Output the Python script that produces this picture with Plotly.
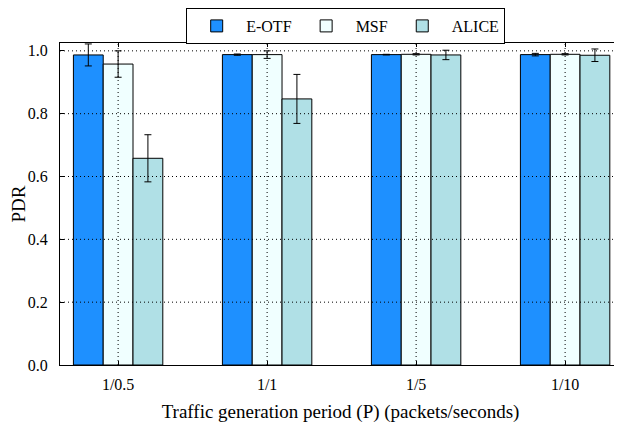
import plotly.graph_objects as go

categories = ["1/0.5", "1/1", "1/5", "1/10"]
series_names = ["E-OTF", "MSF", "ALICE"]
eotf_vals = [0.987, 0.988, 0.988, 0.988]
eotf_err = [0.035, 0.002, 0.001, 0.004]
msf_vals = [0.958, 0.988, 0.989, 0.989]
msf_err = [0.042, 0.012, 0.002, 0.002]
alice_vals = [0.658, 0.847, 0.987, 0.986]
alice_err = [0.075, 0.078, 0.015, 0.02]
colors = ["#1E90FF", "#F0FFFF", "#B0E0E6"]
y_ticks = [0.0, 0.2, 0.4, 0.6, 0.8, 1.0]

FONT = "'Liberation Serif', 'DejaVu Serif', serif"
xpos = list(range(len(categories)))
offsets = [-0.2, 0.0, 0.2]
vals = [eotf_vals, msf_vals, alice_vals]
errs = [eotf_err, msf_err, alice_err]

fig = go.Figure()
for name, v, e, c, off in zip(series_names, vals, errs, colors, offsets):
    fig.add_trace(go.Bar(
        x=[p + off for p in xpos], y=v, width=0.2, name=name,
        marker=dict(color=c, line=dict(color="black", width=1)),
        error_y=dict(type="data", array=e, visible=True, color="black", thickness=1, width=3.5),
    ))

shapes = []
for t in y_ticks[1:]:
    shapes.append(dict(type="line", xref="paper", yref="y", x0=0, x1=1, y0=t, y1=t,
                       line=dict(color="black", width=1, dash="1px,3px"), layer="above"))
for p in xpos:
    shapes.append(dict(type="line", xref="x", yref="paper", x0=p, x1=p, y0=0, y1=1,
                       line=dict(color="black", width=1, dash="1px,3px"), layer="above"))

# page body adds an 8px margin, so the figure is sized 8px smaller
fig.update_layout(
    width=614, height=415,
    margin=dict(l=52, r=1, t=35, b=58, autoexpand=False),
    paper_bgcolor="white", plot_bgcolor="white",
    font=dict(family=FONT, size=16, color="black"),
    barmode="overlay",
    showlegend=True,
    shapes=shapes,
    legend=dict(orientation="h", xref="container", yref="container",
                x=0.55, xanchor="center", y=1.0, yanchor="top",
                bordercolor="black", borderwidth=1, bgcolor="white",
                font=dict(family=FONT, size=16), itemwidth=49,
                tracegroupgap=0),
    xaxis=dict(range=[-0.39, 3.375], tickmode="array", tickvals=xpos, ticktext=categories,
               showline=True, linecolor="black", linewidth=1, mirror="ticks",
               ticks="inside", ticklen=4, tickcolor="black", showgrid=False, zeroline=False,
               ticklabelstandoff=5,
               title=dict(text="Traffic generation period (P) (packets/seconds)", standoff=14),
               layer="above traces", automargin=False),
    yaxis=dict(range=[0, 1.025], tickmode="array", tickvals=y_ticks,
               ticktext=[f"{t:.1f}" for t in y_ticks],
               showline=True, linecolor="black", linewidth=1, mirror="ticks",
               ticks="inside", ticklen=4, tickcolor="black", showgrid=False, zeroline=False,
               ticklabelstandoff=8,
               title=dict(text="PDR", standoff=6), layer="above traces", automargin=False),
)
fig.write_html("out.html")
